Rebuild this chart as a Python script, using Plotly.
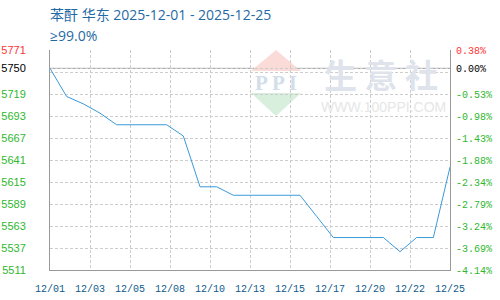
import pandas as pd
import plotly.graph_objects as go

# ---- data ----
dates = ["2025-12-01", "2025-12-02", "2025-12-03", "2025-12-04", "2025-12-05",
         "2025-12-06", "2025-12-07", "2025-12-08", "2025-12-09", "2025-12-10",
         "2025-12-11", "2025-12-12", "2025-12-13", "2025-12-14", "2025-12-15",
         "2025-12-16", "2025-12-17", "2025-12-18", "2025-12-19", "2025-12-20",
         "2025-12-21", "2025-12-22", "2025-12-23", "2025-12-24", "2025-12-25"]
prices = [5750, 5716.67, 5708, 5697, 5683.33,
          5683.33, 5683.33, 5683.33, 5670, 5610,
          5610, 5600, 5600, 5600, 5600,
          5600, 5575, 5550, 5550, 5550,
          5550, 5533.33, 5550, 5550, 5633.33]
base_price = 5750
x_tick_labels = ["12/01", "12/03", "12/05", "12/08", "12/10", "12/13",
                 "12/15", "12/17", "12/20", "12/22", "12/25"]
left_tick_labels = ["5511", "5537", "5563", "5589", "5615", "5641",
                    "5667", "5693", "5719", "", "5771"]
right_tick_labels = ["-4.14%", "-3.69%", "-3.24%", "-2.79%", "-2.34%", "-1.88%",
                     "-1.43%", "-0.98%", "-0.53%", "", "0.38%"]
title_line1 = "苯酐 华东 2025-12-01 - 2025-12-25"
title_line2 = "≥99.0%"

RED = "#ff3333"
GREEN = "#2eb82e"
BLACK = "#000000"

# ---- scales ----
pmin, pmax = min(prices), max(prices)
pad = (pmax - pmin) * 0.1
y0, y1 = pmin - pad, pmax + pad
ystep = (y1 - y0) / 10
ytick_vals = [y0 + ystep * k for k in range(11)]

def colored(t, i, n):
    if t == "":
        return ""
    c = RED if i == n - 1 else GREEN
    return f'<span style="color:{c}">{t}</span>'

left_text = [colored(t, i, len(left_tick_labels)) for i, t in enumerate(left_tick_labels)]
right_text = [colored(t, i, len(right_tick_labels)) for i, t in enumerate(right_tick_labels)]
left_vals = ytick_vals + [base_price]
left_text = left_text + [f'<span style="color:{BLACK}">{base_price}</span>']
right_text = right_text + [f'<span style="color:{BLACK}">0.00%</span>']

t0 = pd.Timestamp(dates[0])
t1 = pd.Timestamp(dates[-1])
xtick_vals = [(t0 + (t1 - t0) * k / 10).strftime("%Y-%m-%d %H:%M:%S") for k in range(11)]

fig = go.Figure()
fig.add_trace(go.Scatter(x=dates, y=prices, mode="lines",
                         line=dict(color="#3a9ad9", width=1), hoverinfo="skip",
                         showlegend=False))
# invisible trace for right axis
fig.add_trace(go.Scatter(x=[dates[0]], y=[base_price], yaxis="y2", mode="markers",
                         marker=dict(opacity=0), hoverinfo="skip", showlegend=False))

grid = dict(gridcolor="#cccccc", gridwidth=1, griddash="3px,2px")

fig.update_layout(
    width=500, height=300,
    margin=dict(l=50, r=50, t=50, b=30),
    paper_bgcolor="white", plot_bgcolor="white",
    font=dict(family="Liberation Sans", size=11),
    xaxis=dict(type="date", range=[t0, t1], tickmode="array",
               tickvals=xtick_vals, ticktext=x_tick_labels,
               showgrid=True, **grid, zeroline=False, automargin=False,
               showline=True, linecolor="#999999", linewidth=1,
               ticks="", ticklabelstandoff=9,
               tickfont=dict(family="Liberation Mono", size=10, color="#0f5a8c")),
    yaxis=dict(range=[y0, y1], tickmode="array", tickvals=left_vals, ticktext=left_text,
               showgrid=True, **grid, zeroline=False, automargin=False,
               showline=True, linecolor="#999999", linewidth=1,
               ticks="", ticklabelstandoff=21,
               tickfont=dict(family="Liberation Sans", size=11)),
    yaxis2=dict(range=[y0, y1], overlaying="y", side="right", tickmode="array",
                tickvals=left_vals, ticktext=right_text, showgrid=False, zeroline=False,
                automargin=False,
                showline=True, linecolor="#999999", linewidth=1,
                ticks="", ticklabelstandoff=3,
                tickfont=dict(family="Liberation Mono", size=10)),
)

# baseline at base price
fig.add_shape(type="line", xref="paper", x0=0, x1=1, yref="y", y0=base_price, y1=base_price,
              line=dict(color="#999999", width=1), layer="between")

# watermark (decorative)
def px(xp):
    return (xp - 50) / 400

def py(yp):
    return (270 - yp) / 220

fig.add_shape(type="path", xref="paper", yref="paper", layer="below",
              path=f"M {px(251)} {py(71)} L {px(276)} {py(50)} L {px(301)} {py(71)} Z",
              fillcolor="#fadbd8", line=dict(width=0))
fig.add_shape(type="path", xref="paper", yref="paper", layer="below",
              path=f"M {px(251)} {py(93)} L {px(301)} {py(93)} L {px(276)} {py(116)} Z",
              fillcolor="#d9efdd", line=dict(width=0))
fig.add_annotation(xref="paper", yref="paper", x=px(276), xanchor="center", y=py(83),
                   yanchor="middle", text="<b>P P I</b>", height=18, valign="middle",
                   showarrow=False, font=dict(family="Liberation Serif", size=21, color="#d3deeb"))
fig.add_annotation(xref="paper", yref="paper", x=px(381), xanchor="center", y=py(74),
                   yanchor="middle", text="生 意 社",
                   showarrow=False, height=34, valign="middle",
                   font=dict(family="Noto Sans CJK SC", size=33, color="#dfe4ec", weight="bold"))
fig.add_annotation(xref="paper", yref="paper", x=px(383), xanchor="center", y=py(106),
                   yanchor="middle", text="WWW.100PPI.COM",
                   showarrow=False, height=13, valign="middle",
                   font=dict(family="Liberation Sans", size=14, color="#e6e6e6"))

# titles
title_font = dict(family="Open Sans, Noto Sans CJK SC", size=14, color="#1f6aa5")
fig.add_annotation(xref="paper", yref="paper", x=px(48), xanchor="left", y=py(15), yanchor="middle",
                   text=title_line1, showarrow=False, font=title_font)
fig.add_annotation(xref="paper", yref="paper", x=px(48), xanchor="left", y=py(36), yanchor="middle",
                   text=title_line2, showarrow=False, font=title_font)

fig.write_html("out.html")
